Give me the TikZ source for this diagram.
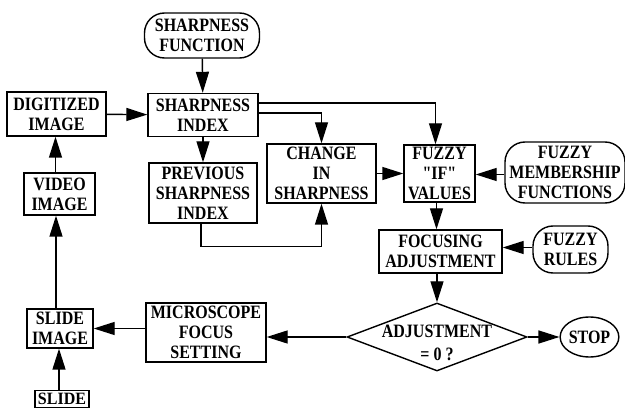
\documentclass[tikz,border=0pt]{standalone}
\usepackage{fontspec}
\setmainfont{Liberation Serif}
\usetikzlibrary{arrows.meta,shapes.geometric}
\newcommand\lbl{\bfseries\fontsize{16}{20}\selectfont}
\newcommand\tl[1]{\scalebox{1}[1.18]{#1}}
\tikzset{
  box/.style={draw, line width=1.4pt, rectangle, inner sep=0pt, align=center, font=\lbl},
  pill/.style={box, rounded corners=20pt},
  arr/.style={line width=1.4pt, -{Triangle[length=21pt,width=13pt]}},
}
\begin{document}
\begin{tikzpicture}[x=1pt,y=-1pt]
\fill[white] (0,0) rectangle (625,409);
\useasboundingbox (0,0) rectangle (625,409);
% nodes
\node[pill, minimum width=115pt, minimum height=45pt] (sf) at (202,35.5) {\tl{SHARPNESS}\\\tl{FUNCTION}};
\node[box, minimum width=99pt, minimum height=44pt] (di) at (56.5,114) {\tl{DIGITIZED}\\\tl{IMAGE}};
\node[box, minimum width=110pt, minimum height=43pt] (si) at (203,115) {\tl{SHARPNESS}\\\tl{INDEX}};
\node[box, minimum width=108pt, minimum height=60pt] (ps) at (203,193) {\tl{PREVIOUS}\\\tl{SHARPNESS}\\\tl{INDEX}};
\node[box, minimum width=109pt, minimum height=59pt] (cs) at (321.5,173.5) {\tl{CHANGE}\\\tl{IN}\\\tl{SHARPNESS}};
\node[box, minimum width=71pt, minimum height=57pt] (fv) at (439.5,173.5) {\tl{FUZZY}\\\tl{\textquotedbl IF\textquotedbl}\\\tl{VALUES}};
\node[pill, minimum width=120pt, minimum height=61pt] (fm) at (565,172.5) {\tl{FUZZY}\\\tl{MEMBERSHIP}\\\tl{FUNCTIONS}};
\node[box, minimum width=123pt, minimum height=43pt] (fa) at (440.5,251.5) {\tl{FOCUSING}\\\tl{ADJUSTMENT}};
\node[pill, minimum width=75pt, minimum height=47pt] (fr) at (570.5,249.5) {\tl{FUZZY}\\\tl{RULES}};
\node[box, minimum width=71pt, minimum height=42pt] (vi) at (59.5,194) {\tl{VIDEO}\\\tl{IMAGE}};
\node[box, minimum width=66pt, minimum height=39pt] (sl) at (60,328.5) {\tl{SLIDE}\\\tl{IMAGE}};
\node[box, minimum width=120pt, minimum height=59pt] (ms) at (206,332.5) {\tl{MICROSCOPE}\\\tl{FOCUS}\\\tl{SETTING}};
\node[draw, line width=1.4pt, diamond, minimum width=180pt, minimum height=68pt, inner sep=0pt] (dm) at (437,337) {};
\node[font=\lbl, align=center, inner sep=0pt] (dmt) at (437,343) {\tl{ADJUSTMENT}\\[3pt]\tl{= 0 ?}};
\node[draw, line width=1.4pt, ellipse, minimum width=55pt, minimum height=40pt, inner sep=0pt, font=\lbl] (st) at (589.5,337) {\tl{STOP}};
\node[box, minimum width=54pt, minimum height=17pt] (sd) at (62,399) {\scalebox{1}[1.08]{SLIDE}};
% helper coordinates
\coordinate (siA) at ([yshift=12pt]si.east);
\coordinate (siB) at ([yshift=2pt]si.east);
\coordinate (fvN) at ([xshift=-4pt]fv.north);
\coordinate (psS) at ([xshift=-2pt]ps.south);
\coordinate (fmW) at ([yshift=-2pt]fm.west);
\coordinate (frW) at ([yshift=2pt]fr.west);
\coordinate (fvS) at ([xshift=-3pt]fv.south);
\coordinate (slN) at ([xshift=-4pt]sl.north);
\coordinate (viN) at ([xshift=-4pt]vi.north);
\coordinate (sdN) at ([xshift=-3pt]sd.north);
% connectors
\draw[arr] (sf) -- (si);
\draw[arr] (di) -- (si);
\draw[arr] (si) -- (ps);
\draw[arr] (siA) -| (fvN);
\draw[arr] (siB) -| (cs.north);
\draw[arr] (psS) -- ++(0,23) -| (cs.south);
\draw[arr] (cs.east) -- (fv.west);
\draw[arr] (fmW) -- (fv.east |- fmW);
\draw[arr] (fvS) -- (fvS |- fa.north);
\draw[arr] (frW) -- (fa.east |- frW);
\draw[arr] (fa.south -| dm.north) -- (dm.north);
\draw[arr] (dm.east) -- (st.west);
\draw[arr] (dm.west) -- (ms.east |- dm.west);
\draw[arr] (ms.west |- sl.east) -- (sl.east);
\draw[arr] (slN) -- (slN |- vi.south);
\draw[arr] (viN) -- (viN |- di.south);
\draw[arr] (sdN) -- (sdN |- sl.south);
\end{tikzpicture}
\end{document}
